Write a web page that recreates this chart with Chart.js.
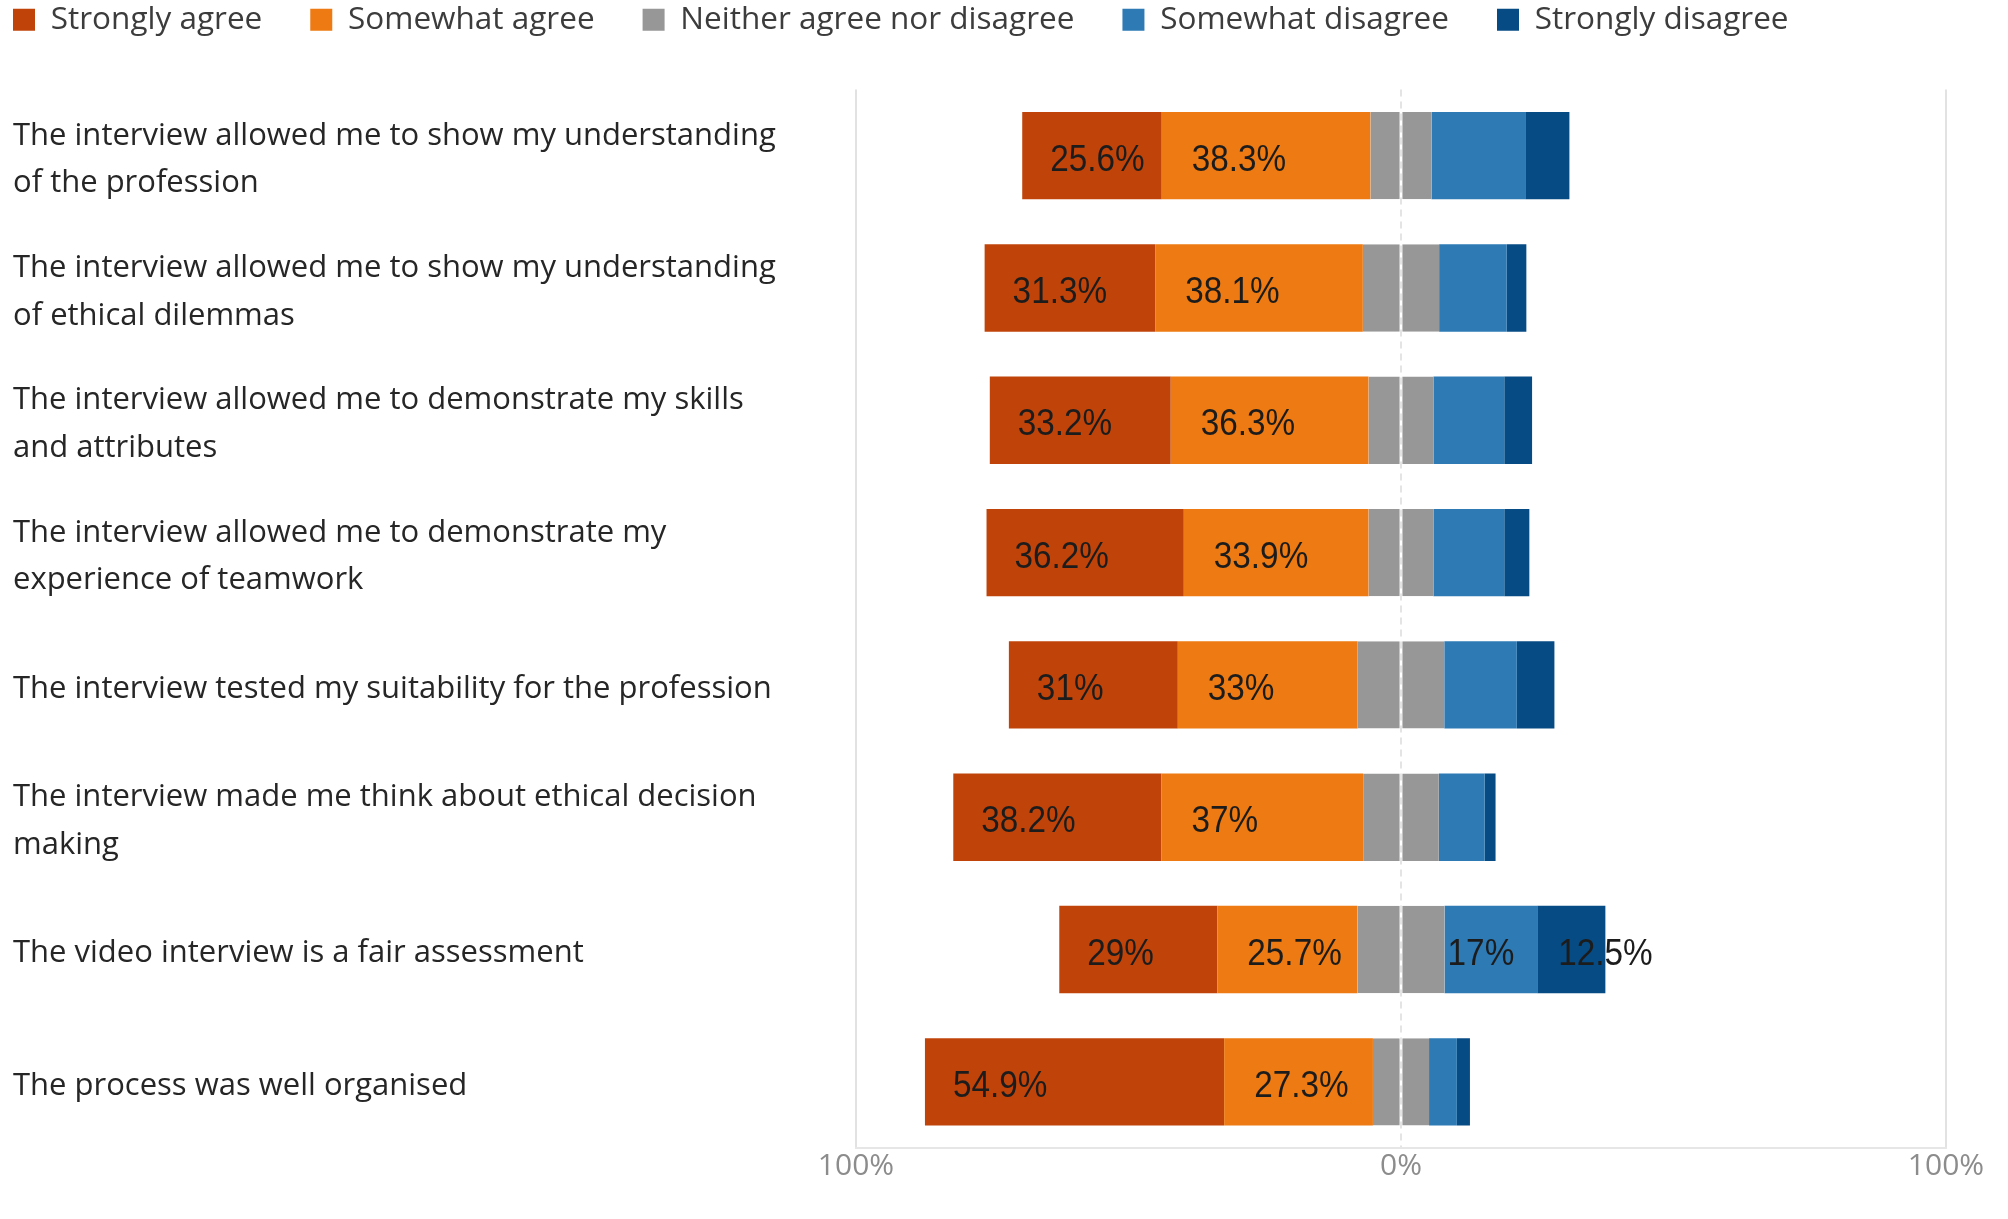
<!DOCTYPE html>
<html>
<head>
<meta charset="utf-8">
<title>Interview feedback</title>
<script src="https://cdn.jsdelivr.net/npm/chart.js@4/dist/chart.umd.min.js"></script>
<style>
  html, body { margin: 0; padding: 0; background: #fff; }
  #wrap { width: 2008px; height: 1219px; position: relative; }
</style>
</head>
<body>
<div id="wrap"><canvas id="likertChart"></canvas></div>
<script>
// statements, top to bottom
const statements = [
    ['The interview allowed me to show my understanding', 'of the profession'],
    ['The interview allowed me to show my understanding', 'of ethical dilemmas'],
    ['The interview allowed me to demonstrate my skills', 'and attributes'],
    ['The interview allowed me to demonstrate my', 'experience of teamwork'],
    'The interview tested my suitability for the profession',
    ['The interview made me think about ethical decision', 'making'],
    'The video interview is a fair assessment',
    'The process was well organised'
];

// percentages per answer (unlabelled ones)
const stronglyAgree = [25.6, 31.3, 33.2, 36.2, 31, 38.2, 29, 54.9];
const somewhatAgree = [38.3, 38.1, 36.3, 33.9, 33, 37, 25.7, 27.3];
const neitherAgree = [11.2, 14.0, 11.9, 11.9, 15.9, 13.9, 16.0, 10.3];
const somewhatDisagree = [17.2, 12.4, 13.0, 13.0, 13.3, 8.4, 17, 5.1];
const stronglyDisagree = [8.1, 3.6, 5.1, 4.6, 6.9, 2.0, 12.5, 2.4];

// which rows carry a value label for the disagree series
const disagreeLabelRows = [6];

const axisTicks = [-100, 0, 100];

const pct = v => v + '%';
const onlyRows = (vals, rows) => vals.map((v, i) => rows.includes(i) ? pct(v) : null);

Chart.defaults.font.family = '"Segoe UI", "Open Sans", sans-serif';

// value labels, drawn left-aligned inside the segment
const barLabels = {
    id: 'barLabels',
    afterDatasetsDraw(chart) {
        const ctx = chart.ctx;
        chart.data.datasets.forEach((ds, di) => {
            if (!ds.labelText) return;
            const meta = chart.getDatasetMeta(di);
            meta.data.forEach((bar, i) => {
                const txt = ds.labelText[i];
                if (!txt) return;
                const left = Math.min(bar.x, bar.base);
                ctx.save();
                ctx.font = '37px "Liberation Sans", Arial, sans-serif';
                ctx.fillStyle = '#1c1c1c';
                ctx.textAlign = 'left';
                ctx.textBaseline = 'middle';
                ctx.translate(left + ds.labelPad, bar.y + 5);
                ctx.scale(0.9, 1); // the source font is a little narrow
                ctx.fillText(txt, 0, 0);
                ctx.restore();
            });
        });
    }
};

// push the legend row to the top-left corner
const legendShift = {
    id: 'legendShift',
    afterLayout(chart) {
        const lg = chart.legend;
        const pad = lg.options.labels.padding;
        lg.left = 13 - pad;
        lg.top = 4 - pad;
    }
};

const legendRank = { 2: 0, 1: 1, 0: 2, 4: 3, 5: 4 };
const baseLabels = Chart.defaults.plugins.legend.labels.generateLabels;

const ctx = document.getElementById('likertChart').getContext('2d');
new Chart(ctx, {
    type: 'bar',
    data: {
        labels: statements,
        datasets: [
            {
                label: 'Neither agree nor disagree',
                data: neitherAgree.map(v => -v / 2),
                backgroundColor: '#979797',
                borderColor: '#c4c4c4',
                borderWidth: { top: 0, bottom: 0, left: 0, right: 1 },
                borderSkipped: false
            },
            {
                label: 'Somewhat agree',
                data: somewhatAgree.map(v => -v),
                backgroundColor: '#ED7A12',
                labelText: somewhatAgree.map(pct),
                labelPad: 30
            },
            {
                label: 'Strongly agree',
                data: stronglyAgree.map(v => -v),
                backgroundColor: '#C0440A',
                labelText: stronglyAgree.map(pct),
                labelPad: 28
            },
            {
                label: 'Neither agree nor disagree',
                data: neitherAgree.map(v => v / 2),
                backgroundColor: '#979797',
                borderColor: '#c4c4c4',
                borderWidth: { top: 0, bottom: 0, left: 1, right: 0 },
                borderSkipped: false
            },
            {
                label: 'Somewhat disagree',
                data: somewhatDisagree,
                backgroundColor: '#2D7AB5',
                labelText: onlyRows(somewhatDisagree, disagreeLabelRows),
                labelPad: 3
            },
            {
                label: 'Strongly disagree',
                data: stronglyDisagree,
                backgroundColor: '#074B84',
                labelText: onlyRows(stronglyDisagree, disagreeLabelRows),
                labelPad: 21
            }
        ]
    },
    options: {
        indexAxis: 'y',
        responsive: true,
        maintainAspectRatio: false,
        animation: false,
        datasets: { bar: { categoryPercentage: 1, barPercentage: 0.66 } },
        layout: { padding: { top: 0, left: 13, right: 62, bottom: 35 } },
        scales: {
            x: {
                stacked: true,
                min: -100,
                max: 100,
                afterBuildTicks: scale => { scale.ticks = axisTicks.map(v => ({ value: v })); },
                ticks: {
                    callback: v => Math.abs(v) + '%',
                    color: '#8c8c8c',
                    font: { size: 30 },
                    padding: 0
                },
                grid: {
                    drawTicks: false,
                    color: c => c.tick && c.tick.value === 0 ? '#e4e4e4' : '#e2e2e2',
                    lineWidth: 2
                },
                border: {
                    display: true,
                    color: '#e6e6e6',
                    width: 2,
                    dash: c => c.tick && c.tick.value === 0 ? [7, 5] : []
                }
            },
            y: {
                stacked: true,
                afterFit: scale => { scale.width = 843; },
                grid: { display: false },
                border: { display: false },
                ticks: {
                    crossAlign: 'far',
                    labelOffset: 4,
                    color: '#262626',
                    font: { size: 31, lineHeight: 1.53 }
                }
            }
        },
        plugins: {
            tooltip: { enabled: false },
            legend: {
                position: 'top',
                align: 'start',
                maxHeight: 91,
                labels: {
                    boxWidth: 22,
                    boxHeight: 22,
                    padding: 48,
                    color: '#3c3c3c',
                    font: { size: 31.5 },
                    generateLabels: chart => baseLabels(chart)
                        .filter(item => item.datasetIndex !== 3)
                        .map(item => Object.assign(item, { lineWidth: 0 }))
                        .sort((a, b) => legendRank[a.datasetIndex] - legendRank[b.datasetIndex])
                }
            }
        }
    },
    plugins: [barLabels, legendShift]
});
</script>
</body>
</html>
